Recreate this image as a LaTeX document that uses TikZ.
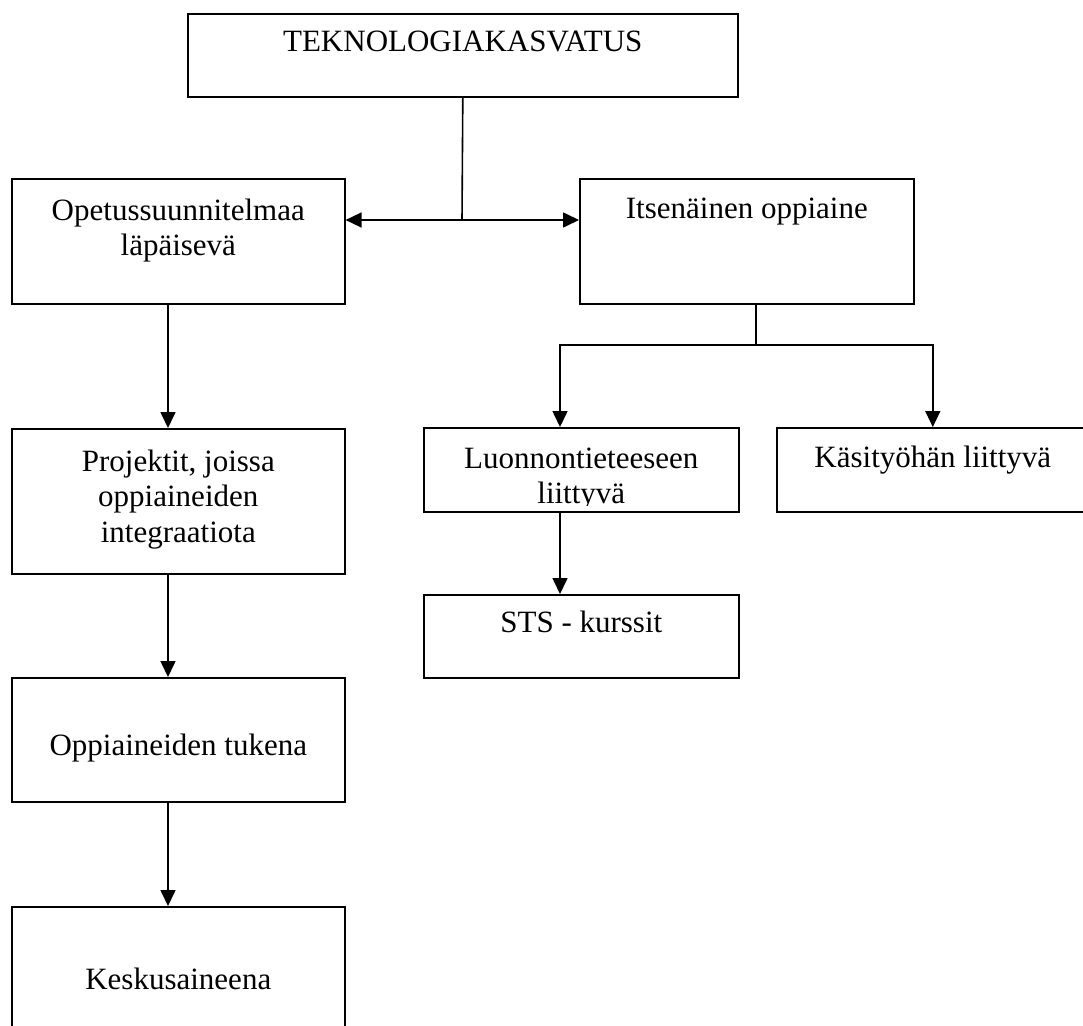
\documentclass[tikz,border=0pt]{standalone}
\usepackage{fontspec}
\setmainfont{Liberation Serif}
\usetikzlibrary{arrows.meta,positioning}

\begin{document}
\begin{tikzpicture}[
  x=1pt, y=-1pt,
  line width=1.6pt,
  box/.style={draw, anchor=north west, inner sep=0pt},
  box text/.style={inner sep=0pt, align=center,
    font=\fontsize{31}{35.5}\selectfont},
  arrow/.style={-{Triangle[length=16pt,width=15pt]}}
]
\useasboundingbox (0,0) rectangle (1083,1025);
\clip (0,0) rectangle (1083,1025);

% boxes
\node[box, minimum width=550pt, minimum height=83pt] (tek) at (187,13) {};
\node[box, minimum width=333pt, minimum height=125pt] (ops) at (11,178) {};
\node[box, minimum width=334pt, minimum height=125pt] (its) at (579,178) {};
\node[box, minimum width=333pt, minimum height=145pt] (pro) at (11,428) {};
\node[box, minimum width=333pt, minimum height=124pt] (tuk) at (11,677) {};
\node[box, minimum width=333pt, minimum height=160pt] (kes) at (11,906) {};
\node[box, minimum width=315pt, minimum height=84pt] (luo) at (423,427) {};
\node[box, minimum width=312pt, minimum height=84pt] (kas) at (776,427) {};
\node[box, minimum width=315pt, minimum height=83pt] (sts) at (423,594) {};

% texts
\node[box text, below=17pt of tek.north] (tek text) {TEKNOLOGIAKASVATUS};
\node[box text, below=20pt of ops.north] (ops text) {Opetussuunnitelmaa\\läpäisevä};
\node[box text, below=19pt of its.north] (its text) {Itsenäinen oppiaine};
\node[box text, below=21pt of pro.north] (pro text) {Projektit, joissa\\oppiaineiden\\integraatiota};
\node[box text, below=56pt of tuk.north] (tuk text) {Oppiaineiden tukena};
\node[box text, below=61pt of kes.north] (kes text) {Keskusaineena};
\node[box text, below=18pt of kas.north] (kas text) {Käsityöhän liittyvä};
\node[box text, below=16pt of sts.north] (sts text) {STS - kurssit};
\begin{scope}
  \clip ([yshift=7pt]luo.south west) rectangle (luo.north east);
  \node[box text, below=20pt of luo.north] (luo text) {Luonnontieteeseen\\liittyvä};
\end{scope}

% connectors
\coordinate (fork) at (462,220);
\draw (tek.south) -- (fork);
\draw[arrow] (fork) -- (fork -| ops.east);
\draw[arrow] (fork) -- (fork -| its.west);

\coordinate (split) at (756,345);
\coordinate (luo in) at (560,427);
\draw (split |- its.south) -- (split);
\draw[arrow] (split) -| (luo in);
\draw[arrow] (split) -| (kas.north);
\draw[arrow] (luo in |- luo.south) -- (luo in |- sts.north);

\coordinate (spine) at (168,0);
\foreach \a/\b in {ops/pro, pro/tuk, tuk/kes}
  \draw[arrow] (spine |- \a.south) -- (spine |- \b.north);
\end{tikzpicture}
\end{document}
